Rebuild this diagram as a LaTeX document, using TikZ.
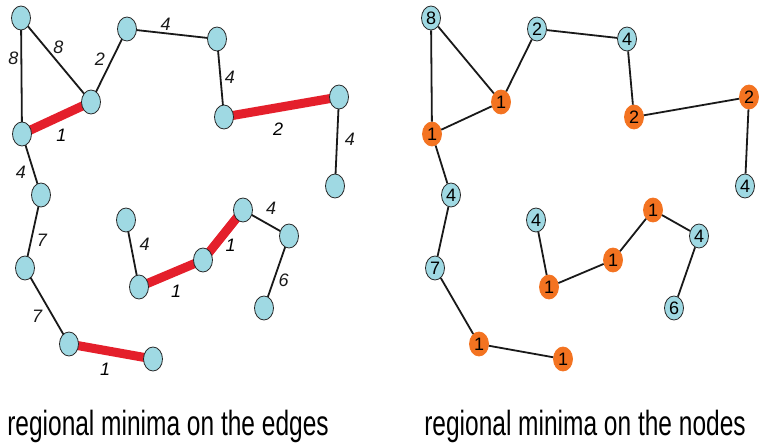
\documentclass[tikz,border=0pt]{standalone}
\usepackage{fontspec}
\setmainfont{Liberation Sans}
\newfontfamily\capfont[FakeStretch=0.7]{Liberation Sans}
\usepackage{tikz}
\usetikzlibrary{shapes.geometric, backgrounds}

\definecolor{nodeblue}{HTML}{9FD9E3}
\definecolor{minred}{HTML}{E41F2B}
\definecolor{minorange}{HTML}{F37321}

\begin{document}
\begin{tikzpicture}[x=1pt, y=-1pt,
	vert/.style={draw=black!85, line width=0.8pt, fill=nodeblue, ellipse,
		minimum width=19pt, minimum height=24pt, inner sep=0pt,
		font=\fontsize{18}{18}\selectfont},
	minvert/.style={vert, draw=minorange, fill=minorange},
	link/.style={line width=1.8pt, black!90},
	minlink/.style={line width=9pt, minred},
	lbl/.style={inner sep=0pt, font=\fontsize{18}{18}\selectfont\itshape}]
	\useasboundingbox (0,0) rectangle (762,444);

	% regional minima on the edges
	\node[vert] (ea) at (21,18)   {};
	\node[vert] (eb) at (127,29)  {};
	\node[vert] (ec) at (217,39)  {};
	\node[vert] (ed) at (91,102)  {};
	\node[vert] (ee) at (22,134)  {};
	\node[vert] (ef) at (224,117) {};
	\node[vert] (eg) at (339,97)  {};
	\node[vert] (eh) at (335,186) {};
	\node[vert] (ei) at (41,195)  {};
	\node[vert] (ej) at (25,268)  {};
	\node[vert] (ek) at (69,344)  {};
	\node[vert] (el) at (153,359) {};
	\node[vert] (em) at (126,220) {};
	\node[vert] (en) at (139,287) {};
	\node[vert] (eo) at (203,260) {};
	\node[vert] (ep) at (243,210) {};
	\node[vert] (eq) at (289,236) {};
	\node[vert] (er) at (264,308) {};

	\begin{pgfonlayer}{background}
	\draw[link] (ea.center) -- node[lbl, pos=.35, left=2pt] {8} (ee.center);
	\draw[link] (ea.center) -- node[lbl, pos=.35, right=7pt] {8} (ed.center);
	\draw[link] (ed.center) -- node[lbl, pos=.58, left=6pt] {2} (eb.center);
	\draw[link] (eb.center) -- node[lbl, pos=.43, above=2pt] {4} (ec.center);
	\draw[link] (ec.center) -- node[lbl, pos=.49, right=3.5pt] {4} (ef.center);
	\draw[minlink] (ef.center) -- node[lbl, black, pos=.47, below=11pt] {2} (eg.center);
	\draw[link] (eg.center) -- node[lbl, pos=.48, right=7pt] {4} (eh.center);
	\draw[minlink] (ed.center) -- node[lbl, black, pos=.43, below=9pt] {1} (ee.center);
	\draw[link] (ee.center) -- node[lbl, pos=.62, left=7pt] {4} (ei.center);
	\draw[link] (ei.center) -- node[lbl, pos=.62, right=5pt] {7} (ej.center);
	\draw[link] (ej.center) -- node[lbl, pos=.64, left=10pt] {7} (ek.center);
	\draw[minlink] (ek.center) -- node[lbl, black, pos=.43, below=8pt] {1} (el.center);
	\draw[link] (em.center) -- node[lbl, pos=.37, right=8pt] {4} (en.center);
	\draw[minlink] (en.center) -- node[lbl, black, pos=.58, below=9pt] {1} (eo.center);
	\draw[minlink] (eo.center) -- node[lbl, black, pos=.3, right=6pt] {1} (ep.center);
	\draw[link] (ep.center) -- node[lbl, pos=.61, above=10pt] {4} (eq.center);
	\draw[link] (eq.center) -- node[lbl, pos=.61, right=4pt] {6} (er.center);
	\end{pgfonlayer}

	% regional minima on the nodes
	\node[vert]    (na) at (431,18)  {8};
	\node[vert]    (nb) at (537,29)  {2};
	\node[vert]    (nc) at (627,39)  {4};
	\node[minvert] (nd) at (501,102) {1};
	\node[minvert] (ne) at (432,134) {1};
	\node[minvert] (nf) at (634,117) {2};
	\node[minvert] (ng) at (749,97)  {2};
	\node[vert]    (nh) at (745,186) {4};
	\node[vert]    (ni) at (451,195) {4};
	\node[vert]    (nj) at (435,268) {7};
	\node[minvert] (nk) at (479,344) {1};
	\node[minvert] (nl) at (563,359) {1};
	\node[vert]    (nm) at (536,220) {4};
	\node[minvert] (nn) at (549,287) {1};
	\node[minvert] (no) at (613,260) {1};
	\node[minvert] (np) at (653,210) {1};
	\node[vert]    (nq) at (699,236) {4};
	\node[vert]    (nr) at (674,308) {6};

	\draw[link] (na) -- (ne);
	\draw[link] (na) -- (nd);
	\draw[link] (nd) -- (nb);
	\draw[link] (nb) -- (nc);
	\draw[link] (nc) -- (nf);
	\draw[link] (nf) -- (ng);
	\draw[link] (ng) -- (nh);
	\draw[link] (nd) -- (ne);
	\draw[link] (ne) -- (ni);
	\draw[link] (ni) -- (nj);
	\draw[link] (nj) -- (nk);
	\draw[link] (nk) -- (nl);
	\draw[link] (nm) -- (nn);
	\draw[link] (nn) -- (no);
	\draw[link] (no) -- (np);
	\draw[link] (np) -- (nq);
	\draw[link] (nq) -- (nr);

	\node[anchor=base, font=\capfont\fontsize{35}{35}\selectfont] (edgecap) at (168,435)
		{regional minima on the edges};
	\node[anchor=base, font=\capfont\fontsize{35}{35}\selectfont] (nodecap) at (585,435)
		{regional minima on the nodes};
\end{tikzpicture}
\end{document}
